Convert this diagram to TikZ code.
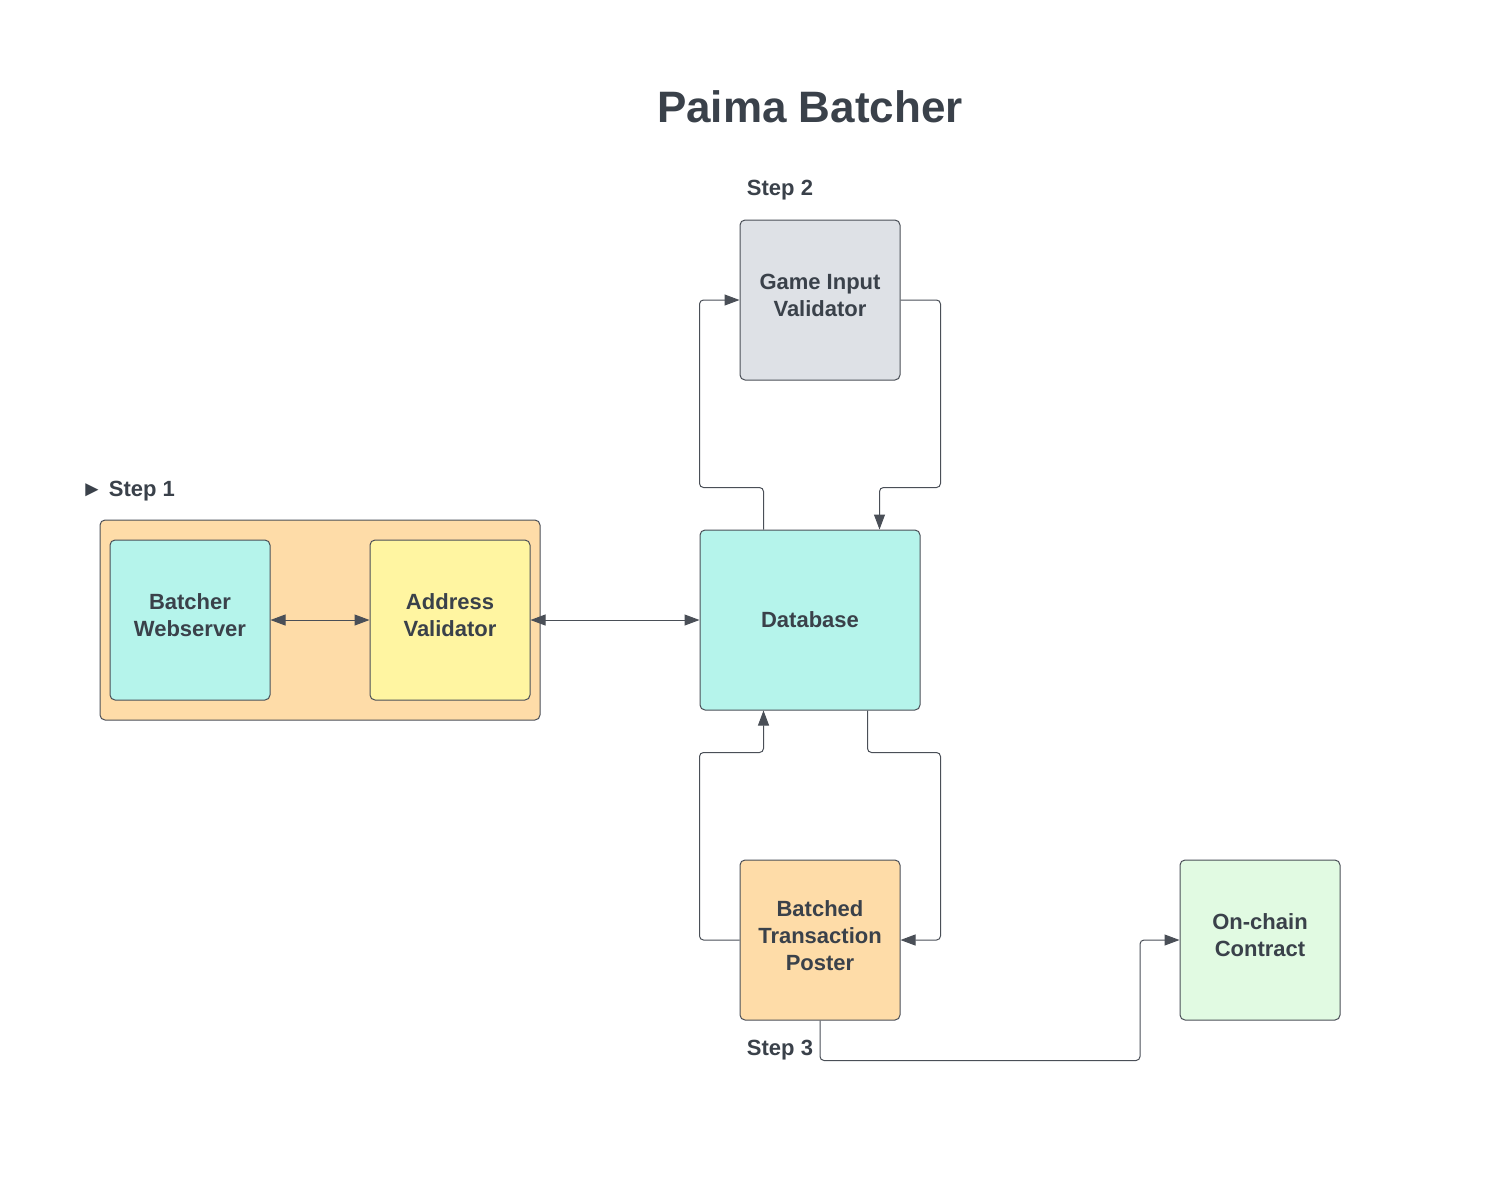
\documentclass[tikz,border=0pt]{standalone}
\usepackage{fontspec}
\setmainfont{Liberation Sans}
\usetikzlibrary{calc}
\usetikzlibrary{arrows.meta}
\definecolor{ink}{HTML}{3A414A}
\definecolor{edgegray}{HTML}{4A4F57}
\definecolor{aqua}{HTML}{B5F4EB}
\definecolor{lemon}{HTML}{FFF5A1}
\definecolor{peach}{HTML}{FEDCA8}
\definecolor{cloud}{HTML}{DEE1E6}
\definecolor{mint}{HTML}{E1FAE2}
\begin{document}
\begin{tikzpicture}[x=0.5pt, y=-0.5pt,
    every node/.style={text=ink, font=\bfseries\fontsize{11}{13.5}\selectfont, align=center},
    block/.style={draw=edgegray, line width=0.5pt, rounded corners=2.5pt, minimum width=80pt, minimum height=80pt, inner sep=0pt},
    lift/.style={text depth=4.5pt},
    link/.style={draw=edgegray, line width=0.5pt, rounded corners=2pt},
    tip/.style={-{Triangle[length=7.5pt,width=5.5pt]}},
    both/.style={{Triangle[length=7.5pt,width=5.5pt]}-{Triangle[length=7.5pt,width=5.5pt]}}]
        \useasboundingbox (0,0) rectangle (1494,1201);
        \node[font=\bfseries\fontsize{22}{26}\selectfont] (title) at (810,107) {Paima Batcher};
        \node[block, fill=peach, minimum width=220pt, minimum height=100pt] (group) at (320,620) {};
        \node[block, lift, fill=aqua] (bw) at (190,620) {Batcher\\Webserver};
        \node[block, lift, fill=lemon] (av) at (450,620) {Address\\Validator};
        \node[block, fill=aqua, minimum width=110pt, minimum height=90pt] (db) at (810,620) {Database};
        \node[block, lift, fill=cloud] (giv) at (820,300) {Game Input\\Validator};
        \node[block, lift, fill=peach] (btp) at (820,940) {Batched\\Transaction\\Poster};
        \node[block, lift, fill=mint] (occ) at (1260,940) {On-chain\\Contract};
        \node (step1) at (128,491) {► Step 1};
        \node (step2) at (780,190) {Step 2};
        \node (step3) at (780,1050) {Step 3};
        \draw[link, both] (bw) -- (av);
        \draw[link, both] (av) -- (db);
        \draw[link, tip] ($(db.north west)+(64,0)$) |- ($(db.north west)+(0,-42)$) |- (giv.west);
        \draw[link, tip] (giv.east) -| ($(db.north east)+(20,-42)$) -| ($(db.north west)+(180,0)$);
        \draw[link, tip] (btp.west) -| ($(db.south west)+(0,42)$) -| ($(db.south west)+(64,0)$);
        \draw[link, tip] ($(db.south west)+(168,0)$) |- ($(db.south east)+(20,42)$) |- (btp.east);
        \draw[link, tip] (btp.south) |- ($(btp.south)+(320,40)$) |- (occ.west);
    \end{tikzpicture}
\end{document}
